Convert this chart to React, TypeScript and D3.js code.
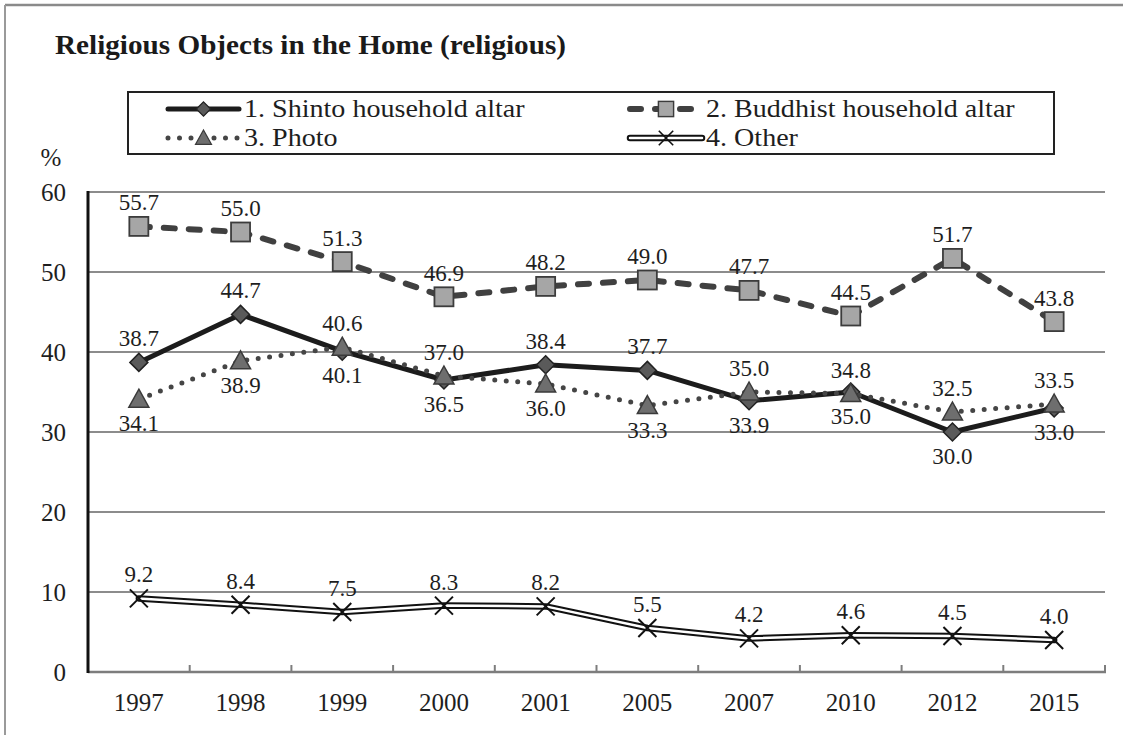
import React from 'react';
import * as d3 from 'd3';

const years = ['1997', '1998', '1999', '2000', '2001', '2005', '2007', '2010', '2012', '2015'];
const shinto = [38.7, 44.7, 40.1, 36.5, 38.4, 37.7, 33.9, 35.0, 30.0, 33.0];
const buddhist = [55.7, 55.0, 51.3, 46.9, 48.2, 49.0, 47.7, 44.5, 51.7, 43.8];
const photo = [34.1, 38.9, 40.6, 37.0, 36.0, 33.3, 35.0, 34.8, 32.5, 33.5];
const other = [9.2, 8.4, 7.5, 8.3, 8.2, 5.5, 4.2, 4.6, 4.5, 4.0];
const yTicks = [0, 10, 20, 30, 40, 50, 60];
const seriesNames = ['1. Shinto household altar', '2. Buddhist household altar', '3. Photo', '4. Other'];

const W = 1123, H = 735;
const FONT = 'Liberation Serif';
const TXT = '#1e1e1e';

type Kind = 'diamond' | 'square' | 'triangle' | 'cross';

function Marker({ kind, x, y }: { kind: Kind; x: number; y: number }) {
  if (kind === 'diamond') {
    const r = 9;
    return <path d={`M${x},${y - r}L${x + r},${y}L${x},${y + r}L${x - r},${y}Z`} fill="#5a5a5a" stroke="#222" strokeWidth={1.5} />;
  }
  if (kind === 'square') {
    const s = 19;
    return <rect x={x - s / 2} y={y - s / 2} width={s} height={s} fill="#a6a6a6" stroke="#3c3c3c" strokeWidth={1.8} />;
  }
  if (kind === 'triangle') {
    const r = 10;
    return <path d={`M${x},${y - r}L${x + r},${y + r * 0.8}L${x - r},${y + r * 0.8}Z`} fill="#6e6e6e" stroke="#3a3a3a" strokeWidth={1.5} />;
  }
  const r = 9;
  return <path d={`M${x - r},${y - r}L${x + r},${y + r}M${x + r},${y - r}L${x - r},${y + r}`} stroke="#111" strokeWidth={2} fill="none" />;
}

function SeriesLine({ d, idx }: { d: string; idx: number }) {
  if (idx === 0) return <path d={d} fill="none" stroke="#1c1c1c" strokeWidth={5} strokeLinejoin="round" strokeLinecap="round" />;
  if (idx === 1) return <path d={d} fill="none" stroke="#404040" strokeWidth={6} strokeDasharray="11 14" strokeLinecap="round" />;
  if (idx === 2) return <path d={d} fill="none" stroke="#454545" strokeWidth={5} strokeDasharray="0 11.5" strokeLinecap="round" />;
  return (
    <g>
      <path d={d} fill="none" stroke="#111" strokeWidth={6.5} strokeLinejoin="round" strokeLinecap="round" />
      <path d={d} fill="none" stroke="#fff" strokeWidth={2.5} strokeLinejoin="round" strokeLinecap="round" />
    </g>
  );
}

function T(props: any) {
  return <text fill={TXT} {...props} style={{ fontFamily: FONT }} />;
}

export default function App() {
  const x = d3.scaleBand<string>().domain(years).range([88, 1105]);
  const bw = x.bandwidth();
  const cx = (yr: string) => (x(yr) as number) + bw / 2;
  const y = d3.scaleLinear().domain([0, 60]).range([672, 192]);

  const allSeries = [shinto, buddhist, photo, other];
  const kinds: Kind[] = ['diamond', 'square', 'triangle', 'cross'];
  const line = d3.line<number>().x((_, i) => cx(years[i])).y((v) => y(v));

  // label placement: above (-1) or below (+1)
  const labelDir = (s: number, i: number) => {
    if (s === 0) return shinto[i] - photo[i] > 2 ? -1 : 1;
    if (s === 2) return shinto[i] - photo[i] > 2 ? 1 : -1;
    return -1;
  };

  const legendItems = [
    { s: 0, lx: 168, rx: 239, tx: 244, ty: 117 },
    { s: 1, lx: 630, rx: 702, tx: 706, ty: 117 },
    { s: 2, lx: 168, rx: 239, tx: 244, ty: 146 },
    { s: 3, lx: 630, rx: 702, tx: 706, ty: 146 },
  ];

  const ticksX = years.map((yr) => x(yr) as number).slice(1).concat([1105]);

  return (
    <svg width={W} height={H} style={{ position: 'absolute', left: 0, top: 0, background: '#fff' }}>
      <rect x={0} y={0} width={W} height={H} fill="#fff" />
      {/* outer frame (top and left visible) */}
      <line x1={5} y1={5} x2={W} y2={5} stroke="#8a8a8a" strokeWidth={2.5} />
      <line x1={5} y1={5} x2={5} y2={H} stroke="#9a9a9a" strokeWidth={2} />

      {/* title */}
      <T x={55} y={54} fontSize={27} fontWeight="bold" fill="#1a1a1a" textLength={511} lengthAdjust="spacingAndGlyphs">
        Religious Objects in the Home (religious)
      </T>

      {/* legend */}
      <rect x={128} y={92} width={926} height={62} fill="#fff" stroke="#222" strokeWidth={2} />
      {legendItems.map((it) => {
        const my = it.ty - 8;
        const mx = (it.lx + it.rx) / 2;
        return (
          <g key={it.s}>
            <SeriesLine d={`M${it.lx},${my}L${it.rx},${my}`} idx={it.s} />
            <g transform={`translate(${mx},${my}) scale(0.8)`}>
              <Marker kind={kinds[it.s]} x={0} y={0} />
            </g>
            <g transform={`translate(${it.tx},${it.ty}) scale(1.08,1)`}>
              <T x={0} y={0} fontSize={26}>{seriesNames[it.s]}</T>
            </g>
          </g>
        );
      })}

      {/* % unit */}
      <T x={51} y={166} fontSize={25} textAnchor="middle">%</T>

      {/* grid lines */}
      {yTicks.filter((t) => t > 0).map((t) => (
        <line key={t} x1={88} x2={1105} y1={y(t)} y2={y(t)} stroke="#8c8c8c" strokeWidth={2} />
      ))}
      {/* y tick labels */}
      {yTicks.map((t) => (
        <T key={t} x={66} y={y(t)} dy="0.35em" fontSize={25} textAnchor="end">{t}</T>
      ))}
      {/* x axis */}
      <line x1={88} x2={1106} y1={y(0)} y2={y(0)} stroke="#7d7d7d" strokeWidth={2.5} />
      {ticksX.map((tx, i) => (
        <line key={i} x1={tx} x2={tx} y1={y(0)} y2={y(0) - 7} stroke="#7d7d7d" strokeWidth={2} />
      ))}
      {years.map((yr) => (
        <T key={yr} x={cx(yr)} y={711} fontSize={25} textAnchor="middle">{yr}</T>
      ))}
      {/* y axis */}
      <line x1={88} x2={88} y1={y(60) - 1} y2={y(0) + 1} stroke="#111" strokeWidth={3} />

      {/* series */}
      {allSeries.map((vals, s) => (
        <g key={s}>
          <SeriesLine d={line(vals) as string} idx={s} />
          {vals.map((v, i) => (
            <Marker key={i} kind={kinds[s]} x={cx(years[i])} y={y(v)} />
          ))}
        </g>
      ))}

      {/* data labels */}
      {allSeries.map((vals, s) => (
        <g key={'l' + s}>
          {vals.map((v, i) => (
            <T key={i} x={cx(years[i])} y={y(v) + labelDir(s, i) * 24} dy="0.35em" fontSize={23} textAnchor="middle">
              {v.toFixed(1)}
            </T>
          ))}
        </g>
      ))}
    </svg>
  );
}
